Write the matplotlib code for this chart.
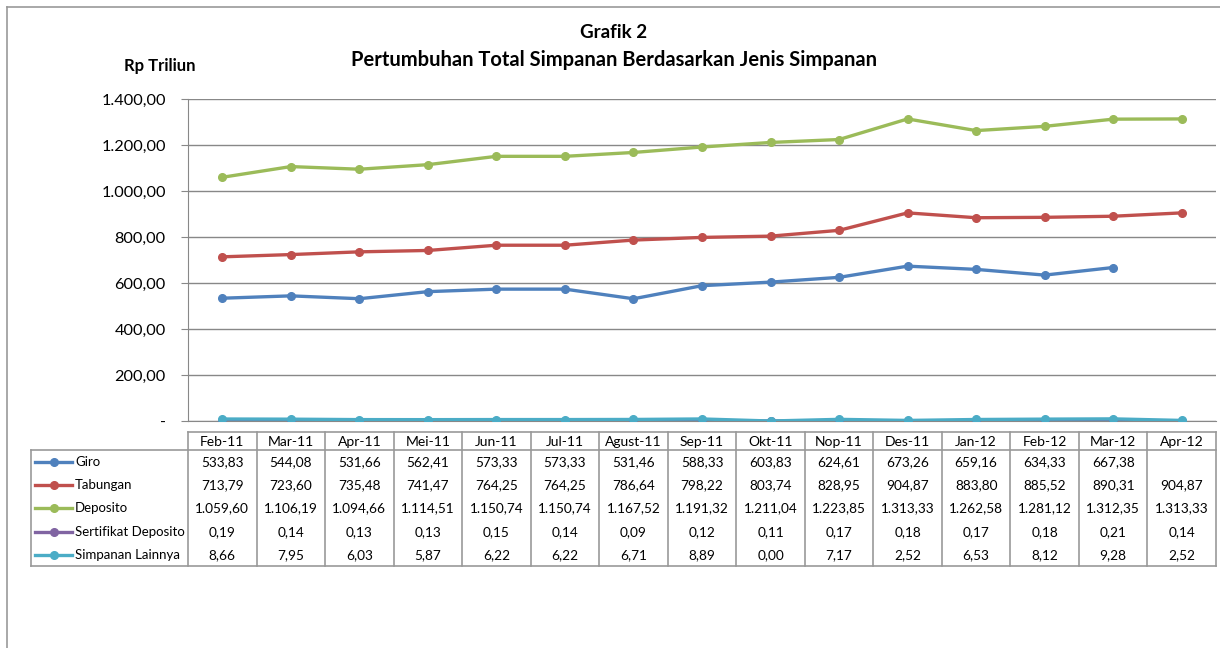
import numpy as np
import matplotlib.pyplot as plt
from matplotlib.lines import Line2D

plt.rcParams['font.family'] = ['Lato', 'DejaVu Sans']

# Data
bulan = ['Feb-11', 'Mar-11', 'Apr-11', 'Mei-11', 'Jun-11', 'Jul-11', 'Agust-11', 'Sep-11',
         'Okt-11', 'Nop-11', 'Des-11', 'Jan-12', 'Feb-12', 'Mar-12', 'Apr-12']
giro = [533.83, 544.08, 531.66, 562.41, 573.33, 573.33, 531.46, 588.33, 603.83, 624.61,
        673.26, 659.16, 634.33, 667.38, np.nan]
tabungan = [713.79, 723.60, 735.48, 741.47, 764.25, 764.25, 786.64, 798.22, 803.74, 828.95,
            904.87, 883.80, 885.52, 890.31, 904.87]
deposito = [1059.60, 1106.19, 1094.66, 1114.51, 1150.74, 1150.74, 1167.52, 1191.32, 1211.04,
            1223.85, 1313.33, 1262.58, 1281.12, 1312.35, 1313.33]
sertifikat = [0.19, 0.14, 0.13, 0.13, 0.15, 0.14, 0.09, 0.12, 0.11, 0.17, 0.18, 0.17, 0.18,
              0.21, 0.14]
lainnya = [8.66, 7.95, 6.03, 5.87, 6.22, 6.22, 6.71, 8.89, 0.00, 7.17, 2.52, 6.53, 8.12,
           9.28, 2.52]
seri = ['Giro', 'Tabungan', 'Deposito', 'Sertifikat Deposito', 'Simpanan Lainnya']
nilai = [giro, tabungan, deposito, sertifikat, lainnya]
warna = ['#4F81BD', '#C0504D', '#9BBB59', '#8064A2', '#4BACC6']
yticks = [0, 200, 400, 600, 800, 1000, 1200, 1400]


def fmt(v):
    # format angka Indonesia: 1.234,56
    if np.isnan(v):
        return ''
    return f'{v:,.2f}'.replace(',', '#').replace('.', ',').replace('#', '.')


W, H = 1220, 648
grid_c = '#888888'
fig = plt.figure(figsize=(W / 100, H / 100), dpi=100)

# area grafik (piksel)
L, R, T, B = 188, 1216, 99, 421
ax = fig.add_axes([L / W, 1 - B / H, (R - L) / W, (B - T) / H])
x = np.arange(len(bulan))
for nama, v, c in zip(seri, nilai, warna):
    ax.plot(x, v, color=c, lw=2.4, marker='o', ms=5.5, label=nama, zorder=3)
ax.set_xlim(-0.5, len(bulan) - 0.5)
ax.set_ylim(0, 1400)
ax.set_yticks(yticks)
ax.set_yticklabels(['-' if t == 0 else fmt(t) for t in yticks], fontsize=11.7)
ax.yaxis.grid(True, color=grid_c, lw=1)
ax.set_xticks([])
ax.tick_params(axis='y', length=5, color=grid_c, pad=11)
for s in ['top', 'right']:
    ax.spines[s].set_visible(False)
ax.spines['left'].set_color(grid_c)
ax.spines['bottom'].set_color(grid_c)

# overlay dalam koordinat piksel
ov = fig.add_axes([0, 0, 1, 1])
ov.set_xlim(0, W)
ov.set_ylim(H, 0)
ov.axis('off')

# border chart
ov.plot([7, 7], [7, H], color='#999999', lw=1.2)
ov.plot([7, W], [7, 7], color='#999999', lw=1.2)

# judul
ov.text(614, 33, 'Grafik 2', ha='center', va='center', fontsize=13.5, fontweight='bold')
ov.text(614, 60, 'Pertumbuhan Total Simpanan Berdasarkan Jenis Simpanan', ha='center',
        va='center', fontsize=14.5, fontweight='bold')
ov.text(160, 66, 'Rp Triliun', ha='center', va='center', fontsize=12, fontweight='bold')

# tabel data
cw = (R - L) / len(bulan)
top_h, top_r, bot = 432, 450, 566
row_y = [462, 485, 508, 532, 555]
lab_l = 31
lc = '#999999'
ov.plot([L, R], [top_h, top_h], color=lc, lw=1.2)
ov.plot([lab_l, R], [top_r, top_r], color=lc, lw=1.2)
ov.plot([lab_l, R], [bot, bot], color=lc, lw=1.2)
ov.plot([lab_l, lab_l], [top_r, bot], color=lc, lw=1.2)
for i in range(len(bulan) + 1):
    ov.plot([L + i * cw] * 2, [top_h, bot], color=lc, lw=1.2)
for i, b in enumerate(bulan):
    ov.text(L + (i + 0.5) * cw, (top_h + top_r) / 2 + 1, b, ha='center', va='center', fontsize=10)
for nama, v, c, yy in zip(seri, nilai, warna, row_y):
    ov.add_line(Line2D([35, 72], [yy, yy], color=c, lw=2.4))
    ov.plot(54, yy, 'o', color=c, ms=5.5)
    ov.text(75, yy, nama, ha='left', va='center', fontsize=9.5)
    for i, val in enumerate(v):
        ov.text(L + (i + 0.5) * cw, yy, fmt(val), ha='center', va='center', fontsize=9.8)

fig.savefig('out.png', dpi=100)
